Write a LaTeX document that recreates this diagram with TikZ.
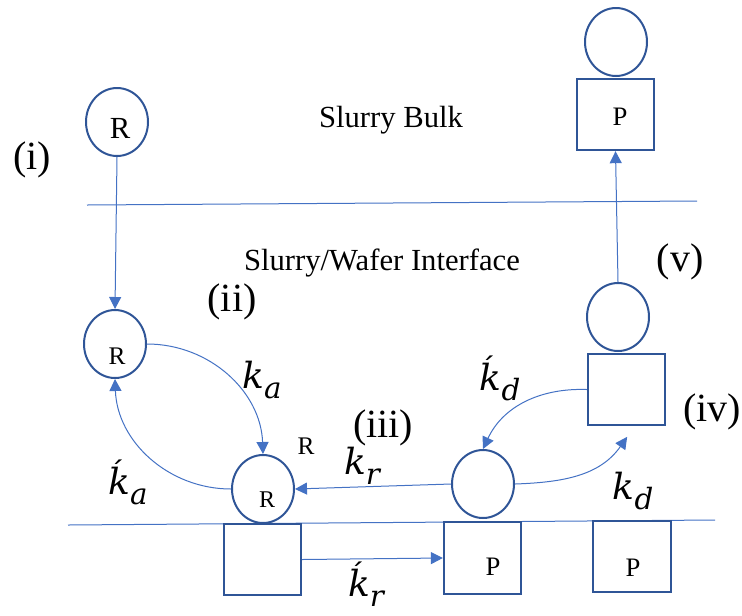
\documentclass[tikz,border=0pt]{standalone}
\usepackage{fontspec}
\setmainfont{Liberation Serif}
\newfontfamily\ratefont{DejaVu Serif}
\newcommand{\rsub}[2]{#1\raisebox{-0.28em}{\fontsize{22}{24}\selectfont #2}}
\usetikzlibrary{arrows.meta,shapes.geometric}
\definecolor{shapec}{HTML}{2F5597}
\definecolor{linec}{HTML}{4472C4}
\begin{document}
\begin{tikzpicture}[x=0.75pt,y=-0.75pt,
  blob/.style={draw=shapec,line width=1.5pt,ellipse,minimum width=46.5pt,minimum height=51pt,inner sep=0pt},
  box/.style={draw=shapec,line width=1.5pt,rectangle,minimum width=58pt,minimum height=53.5pt,inner sep=0pt},
  conn/.style={draw=linec,line width=0.75pt,-{Triangle[length=9pt,width=9pt]}},
  bound/.style={draw=linec,line width=0.75pt},
  roman/.style={font=\fontsize{30}{34}\selectfont,inner sep=0pt},
  zone/.style={font=\fontsize{23}{26}\selectfont,inner sep=0pt},
  rate/.style={font=\ratefont\itshape\fontsize{27}{30}\selectfont,inner sep=0pt},
  sym/.style={font=\fontsize{#1}{#1}\selectfont,inner sep=0pt},
  sym/.default=20]
\useasboundingbox (0,0) rectangle (742,615);

% boundaries
\coordinate (t1) at (87,205); \coordinate (t2) at (697,201);
\draw[bound] (t1) -- (t2);
\coordinate (b1) at (68,525); \coordinate (b2) at (715,520);
\draw[bound] (b1) -- (b2);

% shapes
\node[blob] (c1) at (117,122) {};
\node[blob] (ctop) at (616,42) {};
\node[box] (btop) at (615.5,114.5) {};
\node[blob] (c2) at (115,344) {};
\node[blob] (c3) at (263,489) {};
\node[box] (bs) at (262.5,559.5) {};
\node[blob] (c4) at (483,484) {};
\node[box] (b3) at (482.5,558) {};
\node[blob] (c5) at (618,317) {};
\node[box] (b4) at (626.5,389.5) {};
\node[box] (b5) at (632,556.5) {};

% texts in shapes
\node[sym=23] (r1) at (120,128) {R};
\node[sym=19] (r2) at (117,356) {R};
\node[sym=18] (r3) at (267,500) {R};
\node[sym=19] (rout) at (306,446) {R};
\node[sym=20] (p1) at (620,117) {P};
\node[sym=20] (p3) at (493,567) {P};
\node[sym=20] (p5) at (633,568) {P};

% zone labels
\node[zone] (bulk) at (391,120) {Slurry Bulk};
\node[zone] (iface) at (382,263) {Slurry/Wafer Interface};

% step labels
\node[roman] (li) at (32,160) {(i)};
\node[roman] (lii) at (232,302) {(ii)};
\node[roman] (liii) at (383,428) {(iii)};
\node[roman] (liv) at (712,412) {(iv)};
\node[roman] (lv) at (680,262) {(v)};

% rate labels
\node[rate] (ka) at (262,380) {\rsub{k}{a}};
\node[rate] (kpa) at (128,482) {\rsub{ḱ}{a}};
\node[rate] (kr) at (362,466) {\rsub{k}{r}};
\node[rate] (kpr) at (366,584) {\rsub{ḱ}{r}};
\node[rate] (kpd) at (500,378) {\rsub{ḱ}{d}};
\node[rate] (kd) at (633,491) {\rsub{k}{d}};

% connectors
\draw[conn] (c1.south) -- (c2.north);
\draw[conn] (c5.north) -- (btop.south);
\draw[conn] (c2.east) to[out=0,in=92] (c3.north);
\draw[conn] (c3.west) to[out=180,in=-88] (c2.south);
\draw[conn] (c4.west) -- (c3.east);
\draw[conn] (bs.east) -- (b3.west);
\coordinate (b4tip) at ([xshift=0.5pt,yshift=-8pt]b4.south);
\draw[conn] (c4.east) to[out=2,in=-125] (b4tip);
\draw[conn] (b4.west) to[out=178,in=65] (c4.north);
\end{tikzpicture}
\end{document}
